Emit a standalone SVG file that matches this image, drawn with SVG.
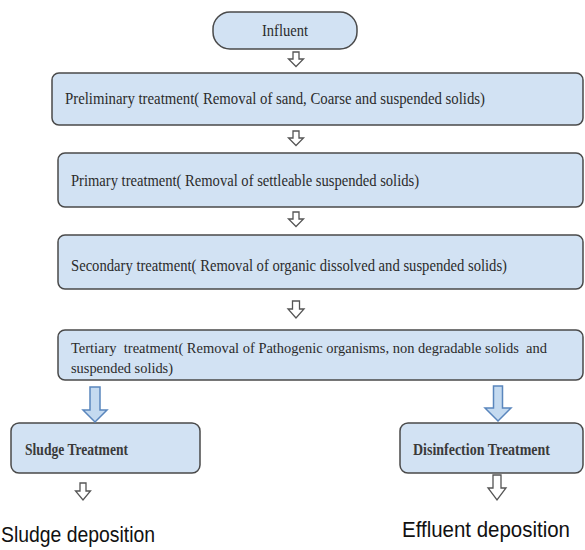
<svg xmlns="http://www.w3.org/2000/svg" width="585" height="550" viewBox="0 0 585 550">
<defs>
<style>
.box{fill:#d2e2f3;stroke:#4a4a4a;stroke-width:1.5}
.t{font-family:"Liberation Serif","Times New Roman",serif;font-size:16px;fill:#2b2b2b;white-space:pre}
.t2{font-size:15.5px}
.tb{font-family:"Liberation Serif","Times New Roman",serif;font-size:16px;font-weight:bold;fill:#3a3a3a}
.big{font-family:"Liberation Sans",Arial,sans-serif;font-size:22px;fill:#111}
.sa{fill:#fff;stroke:#555;stroke-width:1.3;stroke-linejoin:miter}
.ba{fill:#c4daf0;stroke:#5a86bd;stroke-width:1.5}
</style>
</defs>
<rect width="585" height="550" fill="#fff"/>
<g id="influent">
<rect class="box" x="213" y="12" width="144" height="37" rx="17"/>
<text class="t" x="285" y="36" text-anchor="middle" textLength="46" lengthAdjust="spacingAndGlyphs">Influent</text>
</g>
<g id="preliminary">
<rect class="box" x="52" y="73" width="531" height="52" rx="7"/>
<text class="t" x="65" y="104" textLength="420" lengthAdjust="spacingAndGlyphs">Preliminary treatment( Removal of sand, Coarse and suspended solids)</text>
</g>
<g id="primary">
<rect class="box" x="58" y="153" width="525" height="54" rx="7"/>
<text class="t" x="71" y="186" textLength="348" lengthAdjust="spacingAndGlyphs">Primary treatment( Removal of settleable suspended solids)</text>
</g>
<g id="secondary">
<rect class="box" x="58" y="235" width="525" height="54" rx="7"/>
<text class="t" x="71" y="271" textLength="436" lengthAdjust="spacingAndGlyphs">Secondary treatment( Removal of organic dissolved and suspended solids)</text>
</g>
<g id="tertiary">
<rect class="box" x="58" y="330" width="525" height="50" rx="7"/>
<text class="t t2" x="71" y="353" textLength="476" lengthAdjust="spacingAndGlyphs">Tertiary  treatment( Removal of Pathogenic organisms, non degradable solids  and</text>
<text class="t t2" x="71" y="373" textLength="102" lengthAdjust="spacingAndGlyphs">suspended solids)</text>
</g>
<g id="sludge-treatment">
<rect class="box" x="11" y="423" width="189" height="50" rx="8"/>
<text class="tb" x="25" y="455" textLength="103" lengthAdjust="spacingAndGlyphs">Sludge Treatment</text>
</g>
<g id="disinfection-treatment">
<rect class="box" x="400" y="423" width="183" height="50" rx="8"/>
<text class="tb" x="413" y="455" textLength="137" lengthAdjust="spacingAndGlyphs">Disinfection Treatment</text>
</g>
<g id="sludge-deposition">
<text class="big" x="1" y="542" textLength="154" lengthAdjust="spacingAndGlyphs">Sludge deposition</text>
</g>
<g id="effluent-deposition">
<text class="big" x="402" y="537" textLength="168" lengthAdjust="spacingAndGlyphs">Effluent deposition</text>
</g>
<g id="connectors">
<path class="sa" d="M293 52H299V59H303.5L296 66.5L288.5 59H293Z"/>
<path class="sa" d="M293 131H299V138H303.5L296 145.5L288.5 138H293Z"/>
<path class="sa" d="M293 212H299V219H303.5L296 226.5L288.5 219H293Z"/>
<path class="sa" d="M292.5 301H299.5V309H304L296 318L288 309H292.5Z"/>
<path class="ba" d="M90 387H100V410H107L95 422L83 410H90Z"/>
<path class="ba" d="M493.5 386H502.5V408H511L498 421L485 408H493.5Z"/>
<path class="sa" d="M80 483H86V491H90.5L83 500L75.5 491H80Z"/>
<path class="sa" d="M493 475H501V488H506L497 500L488 488H493Z"/>
</g>
</svg>
